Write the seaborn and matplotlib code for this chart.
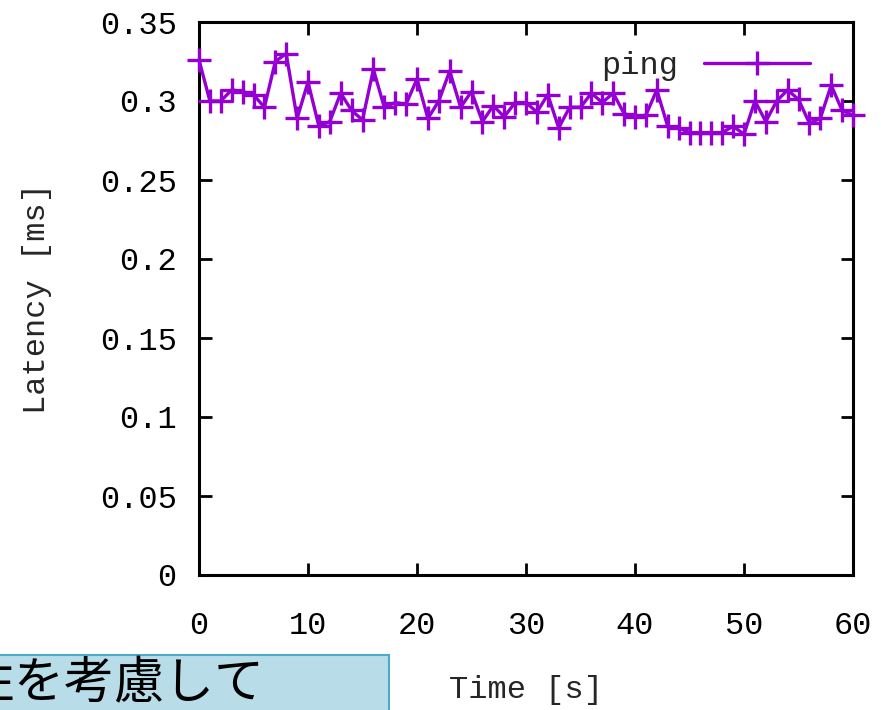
import numpy as np
import pandas as pd
import matplotlib
matplotlib.use("Agg")
import matplotlib.pyplot as plt
from matplotlib.patches import Rectangle
import seaborn as sns

# ping latency, one sample per second
time_s = list(range(0, 61))
latency_ms = [
    0.326, 0.300, 0.300, 0.307, 0.306, 0.304, 0.296, 0.325, 0.330, 0.289,
    0.312, 0.284, 0.287, 0.305, 0.294, 0.288, 0.320, 0.296, 0.299, 0.298,
    0.314, 0.289, 0.300, 0.319, 0.296, 0.306, 0.287, 0.297, 0.290, 0.299,
    0.299, 0.293, 0.304, 0.283, 0.296, 0.296, 0.305, 0.299, 0.305, 0.292,
    0.290, 0.291, 0.307, 0.284, 0.283, 0.280, 0.280, 0.280, 0.280, 0.284,
    0.279, 0.300, 0.287, 0.300, 0.307, 0.301, 0.286, 0.289, 0.310, 0.294,
    0.291,
]
series_name = "ping"

x_ticks = [0, 10, 20, 30, 40, 50, 60]
y_ticks = [0, 0.05, 0.1, 0.15, 0.2, 0.25, 0.3, 0.35]
y_tick_labels = ["0", "0.05", "0.1", "0.15", "0.2", "0.25", "0.3", "0.35"]

x_label = "Time [s]"
y_label = "Latency [ms]"
caption = "性を考慮して"

df = pd.DataFrame({"time": time_s, "latency": latency_ms})

sns.set_style("ticks")
plt.rcParams['font.family'] = ['Liberation Mono', 'DejaVu Sans']

purple = "#9400d3"

fig = plt.figure(figsize=(8.81, 7.10), dpi=100)
ax = fig.add_axes([199 / 881, 1 - 575 / 710, 654 / 881, 553 / 710])

sns.lineplot(data=df, x="time", y="latency", ax=ax, color=purple,
             linewidth=2.4, marker="+", markersize=17, markeredgewidth=2.4,
             markeredgecolor=purple, markerfacecolor=purple,
             label=series_name, clip_on=False, zorder=3)

ax.set_xlim(0, 60)
ax.set_ylim(0, 0.35)
ax.set_xticks(x_ticks)
ax.set_yticks(y_ticks)
ax.set_yticklabels(y_tick_labels)

for side in ["left", "right", "top", "bottom"]:
    ax.spines[side].set_color("black")
    ax.spines[side].set_linewidth(2.2)

ax.tick_params(direction="in", length=9, width=2, top=True, right=True,
               labelsize=23, colors="black")
ax.tick_params(axis="x", pad=26)
ax.tick_params(axis="y", pad=16)

ax.set_xlabel(x_label, fontsize=23)
ax.set_ylabel(y_label, fontsize=23)
ax.xaxis.set_label_coords(0.5, -0.18)
ax.yaxis.set_label_coords(-0.225, 0.5)

ax.legend(loc="center right", bbox_to_anchor=(0.958, 0.92), frameon=False,
          markerfirst=False, handlelength=3.3, handletextpad=0.8,
          borderpad=0, fontsize=23)

# cut-off caption box in the bottom-left corner
fig.patches.append(Rectangle((-0.01, -0.05), 389 / 881 + 0.01, 55 / 710 + 0.05,
                             transform=fig.transFigure, facecolor="#b8dde8",
                             edgecolor="#4bacc6", linewidth=1.5))
fig.text(-35 / 881, 1 - 684 / 710, caption, fontsize=36, ha="left",
         va="center", color="black",
         family=['Noto Sans CJK JP', 'DejaVu Sans'])

fig.savefig("out.png", dpi=100)
